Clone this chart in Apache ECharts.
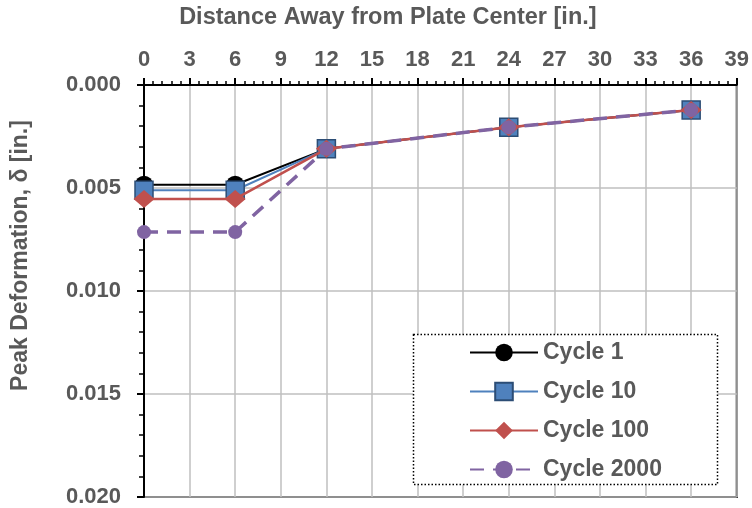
<!DOCTYPE html>
<html>
<head>
<meta charset="utf-8">
<script src="https://cdn.jsdelivr.net/npm/echarts@6/dist/echarts.min.js"></script>
<style>
  html, body { margin: 0; padding: 0; background: #fff; }
  #chart { width: 752px; height: 508px; }
</style>
</head>
<body>
<div id="chart"></div>
<script>
// Distance from plate center [in.]
const distance = [0, 6, 12, 24, 36];

// Peak deformation [in.] per load cycle
const cycle1 = [0.00484, 0.00484, 0.00310, 0.00205, 0.00121];
const cycle10 = [0.00511, 0.00511, 0.00310, 0.00205, 0.00121];
const cycle100 = [0.00553, 0.00553, 0.00310, 0.00205, 0.00121];
const cycle2000 = [0.00714, 0.00714, 0.00310, 0.00205, 0.00121];

const seriesNames = ['Cycle 1', 'Cycle 10', 'Cycle 100', 'Cycle 2000'];

const pairs = (ys) => distance.map((x, i) => [x, ys[i]]);

const font = 'Liberation Sans, Arial, sans-serif';
const textGrey = '#595959';

const chart = echarts.init(document.getElementById('chart'), null, { renderer: 'canvas' });

chart.setOption({
  backgroundColor: '#fff',
  animation: false,
  textStyle: { fontFamily: font },
  grid: {
    left: 144, top: 85, right: 14, bottom: 10,
    show: true, borderColor: '#000', borderWidth: 2,
    backgroundColor: 'transparent'
  },
  xAxis: {
    type: 'value',
    position: 'top',
    min: 0, max: 39, interval: 3,
    name: 'Distance Away from Plate Center [in.]',
    nameLocation: 'middle',
    nameGap: 55,
    nameTextStyle: {
      fontSize: 23.5, fontWeight: 'bold', color: textGrey, fontFamily: font,
      padding: [0, 105, 0, 0]
    },
    axisLine: { show: true, lineStyle: { color: '#000', width: 2 } },
    axisTick: { show: true, inside: false, length: 7, lineStyle: { color: '#000', width: 2 } },
    minorTick: { show: true, splitNumber: 5, length: 4, lineStyle: { color: '#000', width: 1.5 } },
    axisLabel: { fontSize: 22, fontWeight: 'bold', color: textGrey, margin: 14, fontFamily: font },
    splitLine: { show: true, lineStyle: { color: '#bfbfbf', width: 1.5 } }
  },
  yAxis: {
    type: 'value',
    inverse: true,
    min: 0, max: 0.02, interval: 0.005,
    name: 'Peak Deformation, δ [in.]',
    nameLocation: 'middle',
    nameGap: 112,
    nameTextStyle: {
      fontSize: 23, fontWeight: 'bold', color: textGrey, fontFamily: font,
      padding: [0, 0, 0, 71]
    },
    axisLine: { show: true, lineStyle: { color: '#000', width: 2 } },
    axisTick: { show: true, inside: false, length: 7, lineStyle: { color: '#000', width: 2 } },
    minorTick: { show: true, splitNumber: 5, length: 5, lineStyle: { color: '#000', width: 1.5 } },
    axisLabel: {
      fontSize: 22, fontWeight: 'bold', color: textGrey, margin: 23, fontFamily: font,
      formatter: (v) => v.toFixed(3)
    },
    splitLine: { show: true, lineStyle: { color: '#bfbfbf', width: 1.5 } }
  },
  legend: {
    orient: 'vertical',
    left: 464, top: 336,
    itemWidth: 68, itemHeight: 22, itemGap: 16,
    z: 5,
    textStyle: { fontSize: 23, fontWeight: 'bold', color: textGrey, fontFamily: font },
    data: seriesNames
  },
  graphic: [{
    type: 'rect',
    z: 4,
    shape: { x: 413.5, y: 334.5, width: 304, height: 150 },
    style: { fill: '#fff', stroke: '#000', lineWidth: 1.5, lineDash: [1.5, 2] }
  }],
  series: [
    {
      name: seriesNames[0], type: 'line', data: pairs(cycle1), z: 2,
      symbol: 'circle', symbolSize: 18,
      lineStyle: { color: '#000', width: 2 },
      itemStyle: { color: '#000' }
    },
    {
      name: seriesNames[1], type: 'line', data: pairs(cycle10), z: 3,
      symbol: 'rect', symbolSize: 18,
      lineStyle: { color: '#4F81BD', width: 2 },
      itemStyle: { color: '#4F81BD', borderColor: '#2C4D75', borderWidth: 1.5 }
    },
    {
      name: seriesNames[2], type: 'line', data: pairs(cycle100), z: 4,
      symbol: 'diamond', symbolSize: [21, 18],
      lineStyle: { color: '#C0504D', width: 2.5 },
      itemStyle: { color: '#C0504D' }
    },
    {
      name: seriesNames[3], type: 'line', data: pairs(cycle2000), z: 5,
      symbol: 'circle', symbolSize: 14,
      lineStyle: { color: '#8064A2', width: 3.5, type: [14, 9] },
      itemStyle: { color: '#8064A2' }
    }
  ]
});
</script>
</body>
</html>
